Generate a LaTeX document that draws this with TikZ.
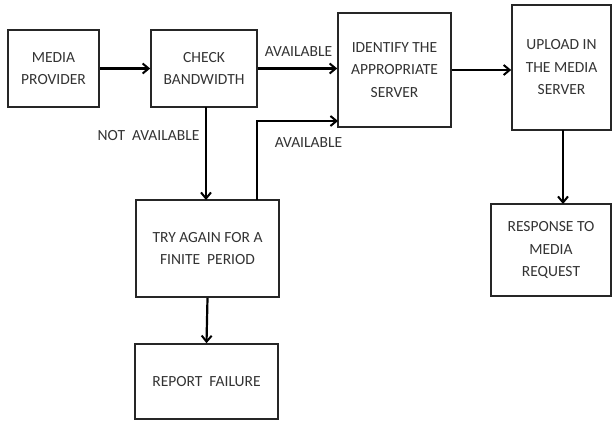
\documentclass[tikz,border=0pt]{standalone}
\usepackage{fontspec}
\setmainfont{Carlito}
\usetikzlibrary{arrows.meta}
\begin{document}
\begin{tikzpicture}[x=1pt,y=-1pt,
  box/.style={draw=black!85,line width=1.6pt,rectangle,inner sep=0pt,align=center,
    font=\fontsize{15.5}{22.5}\selectfont,text=black!80},
  conn/.style={line width=2.2pt,black,-{Straight Barb[length=6pt,width=10pt,line width=2pt]}},
  lbl/.style={font=\fontsize{15.5}{18}\selectfont,text=black!80,inner sep=0pt}]
\useasboundingbox (0,0) rectangle (612,421);
\node[box,minimum width=91pt,minimum height=77pt] (mp) at (53.5,68.5) {MEDIA\\PROVIDER};
\node[box,minimum width=106pt,minimum height=77pt] (cb) at (204,68.5) {CHECK\\BANDWIDTH};
\node[box,minimum width=113pt,minimum height=114pt] (id) at (394.5,70) {IDENTIFY THE\\APPROPRIATE\\SERVER};
\node[box,minimum width=99pt,minimum height=125pt] (up) at (561.5,67.5) {UPLOAD IN\\THE MEDIA\\SERVER};
\node[box,minimum width=120pt,minimum height=92pt] (rs) at (551,250) {RESPONSE TO\\MEDIA\\REQUEST};
\node[box,minimum width=143pt,minimum height=97pt] (tr) at (207.5,248.5) {TRY AGAIN FOR A\\FINITE\ \ PERIOD};
\node[box,minimum width=143pt,minimum height=75pt] (rf) at (206.5,381.5) {REPORT\ \ FAILURE};
\node[lbl] (l1) at (298.5,52) {AVAILABLE};
\node[lbl] (l2) at (148.5,136) {NOT\ \ AVAILABLE};
\node[lbl] (l3) at (308.5,143) {AVAILABLE};
\coordinate (c1) at (206,107);
\coordinate (c2) at (206,200);
\coordinate (c3) at (257,200);
\coordinate (c4) at (338,121);
\coordinate (c5) at (563,130);
\coordinate (c6) at (563,204);
\draw[conn] (mp.east) -- (cb.west);
\draw[conn] (cb.east) -- (cb.east -| id.west);
\draw[conn] (c1) -- (c2);
\draw[conn] (c3) |- (c4);
\draw[conn] (id.east) -- (id.east -| up.west);
\draw[conn] (c5) -- (c6);
\draw[conn] (tr.south) -- (rf.north);
\end{tikzpicture}
\end{document}
